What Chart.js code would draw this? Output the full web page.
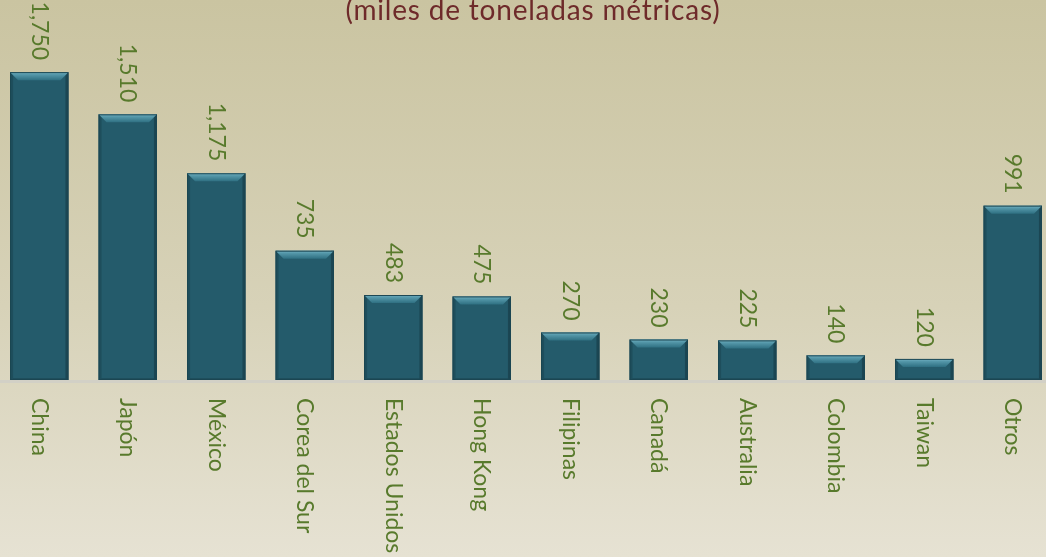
<!DOCTYPE html>
<html>
<head>
<meta charset="utf-8">
<script src="https://cdn.jsdelivr.net/npm/chart.js@4"></script>
<style>
  html, body {
    margin: 0;
    padding: 0;
    width: 1046px;
    height: 557px;
    overflow: hidden;
    background: linear-gradient(#cac4a1 0%, #d7d2b8 55%, #e6e2d3 100%);
  }
  #wrap {
    position: absolute;
    left: -5px;
    top: 0;
    width: 1062px;
    height: 557px;
  }
</style>
</head>
<body>
<div id="wrap"><canvas id="myChart" width="1062" height="557"></canvas></div>
<script>
const countries = ['China', 'Japón', 'México', 'Corea del Sur', 'Estados Unidos', 'Hong Kong',
  'Filipinas', 'Canadá', 'Australia', 'Colombia', 'Taiwan', 'Otros'];
const tonnes = [1750, 1510, 1175, 735, 483, 475, 270, 230, 225, 140, 120, 991];
const subtitle = '(miles de toneladas métricas)';

const labelGreen = '#587a2c';
const fontName = 'Lato, "Open Sans", sans-serif';

// bevelled bars, rotated value labels and category labels
const decorate = {
  id: 'decorate',
  beforeDatasetsDraw(chart) {
    const { ctx, chartArea } = chart;
    ctx.save();
    ctx.fillStyle = '#d2d0c6';
    ctx.fillRect(chartArea.left, chartArea.bottom, chartArea.right - chartArea.left, 3);
    ctx.restore();
  },
  afterDatasetsDraw(chart) {
    const { ctx, chartArea } = chart;
    const meta = chart.getDatasetMeta(0);
    ctx.save();
    meta.data.forEach((bar, i) => {
      const l = bar.x - bar.width / 2;
      const r = bar.x + bar.width / 2;
      const t = bar.y;
      const b = bar.base;
      const bv = Math.min(8, (b - t) / 2);
      const sw = 3;

      // side edges
      ctx.fillStyle = 'rgba(18,50,60,0.5)';
      ctx.fillRect(r - sw, t, sw, b - t);
      ctx.fillStyle = 'rgba(18,50,60,0.3)';
      ctx.fillRect(l, t, sw, b - t);
      ctx.fillRect(l + sw, b - 2, r - l - 2 * sw, 2);

      // top bevel
      const g = ctx.createLinearGradient(0, t, 0, t + bv);
      g.addColorStop(0, '#78b6c7');
      g.addColorStop(0.3, '#5598aa');
      g.addColorStop(1, '#2f7082');
      ctx.fillStyle = g;
      ctx.beginPath();
      ctx.moveTo(l, t);
      ctx.lineTo(r, t);
      ctx.lineTo(r - bv, t + bv);
      ctx.lineTo(l + bv, t + bv);
      ctx.closePath();
      ctx.fill();

      // outline
      ctx.strokeStyle = '#1b4652';
      ctx.lineWidth = 1;
      ctx.strokeRect(l + 0.5, t + 0.5, r - l - 1, b - t - 1);

      // value label
      ctx.fillStyle = labelGreen;
      ctx.font = '23px ' + fontName;
      ctx.save();
      ctx.translate(bar.x, t - 12);
      ctx.rotate(Math.PI / 2);
      ctx.textAlign = 'right';
      ctx.textBaseline = 'middle';
      ctx.fillText(tonnes[i].toLocaleString('en-US'), 0, 0);
      ctx.restore();

      // category label
      ctx.save();
      ctx.translate(bar.x, chartArea.bottom + 18);
      ctx.rotate(Math.PI / 2);
      ctx.textAlign = 'left';
      ctx.textBaseline = 'middle';
      ctx.fillText(countries[i], 0, 0);
      ctx.restore();
    });

    // subtitle, partly cut at the top
    ctx.fillStyle = '#6e2a2a';
    ctx.font = '28px ' + fontName;
    ctx.letterSpacing = '0.8px';
    ctx.textAlign = 'center';
    ctx.textBaseline = 'alphabetic';
    ctx.fillText(subtitle, (chartArea.left + chartArea.right) / 2 + 7, 20);
    ctx.restore();
  }
};

const main = () => {
  const ctx = document.getElementById('myChart').getContext('2d');
  const config = {
    type: 'bar',
    data: {
      labels: countries,
      datasets: [
        {
          label: 'miles de toneladas',
          data: tonnes,
          backgroundColor: '#245b6b',
          borderWidth: 0,
          categoryPercentage: 1,
          barPercentage: 0.66,
        },
      ],
    },
    options: {
      responsive: false,
      animation: false,
      layout: {
        padding: { top: 0, bottom: 177, left: 0, right: 0 },
      },
      plugins: {
        legend: { display: false },
        title: { display: false },
        tooltip: { enabled: false },
      },
      scales: {
        x: { display: false },
        y: { display: false, min: 0, max: 2160 },
      },
    },
    plugins: [decorate],
  };
  const myChart = new Chart(ctx, config);
};

main();
</script>
</body>
</html>
